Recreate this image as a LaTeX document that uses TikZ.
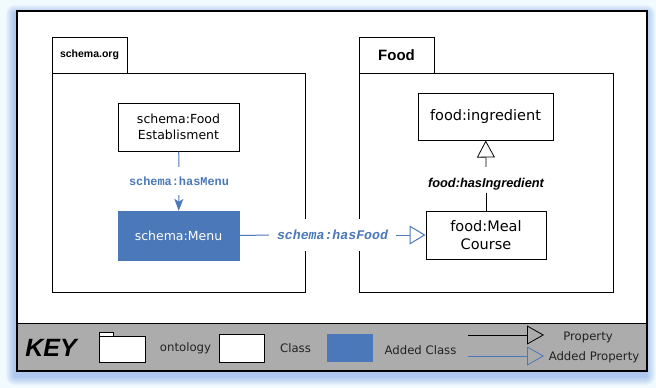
\documentclass[tikz,border=0pt]{standalone}
\usepackage{fontspec}
\setmainfont{DejaVu Sans}
\newfontfamily\helv{Liberation Sans}
\newfontfamily\mono{Liberation Mono}
\usetikzlibrary{arrows.meta}
\definecolor{addblue}{HTML}{4A78B8}
\definecolor{keygray}{HTML}{ACACAC}
\definecolor{backdrop}{HTML}{F1FAFE}
\definecolor{shadowcol}{HTML}{5A8AE0}
\definecolor{keytext}{HTML}{222222}
\tikzset{
  classbox/.style={draw=black, fill=white, line width=1pt, align=center, inner sep=0pt,
    font=\fontsize{12.5}{16}\selectfont},
  foodbox/.style={classbox, font=\fontsize{14.5}{18}\selectfont},
  addedbox/.style={fill=addblue, draw=addblue, text=white, inner sep=0pt,
    font=\fontsize{12.5}{16}\selectfont},
  pkgline/.style={draw=black, line width=1pt, fill=white},
  prop/.style={draw=black, line width=0.8pt},
  addprop/.style={draw=addblue, line width=1pt},
  opentip/.style={-{Triangle[open,length=16pt,width=19pt,fill=white]}},
  keylabel/.style={text=keytext, inner sep=0pt, font=\fontsize{11.7}{14}\selectfont},
}
\begin{document}
\begin{tikzpicture}[x=1pt,y=-1pt]
\useasboundingbox (0,0) rectangle (656,388);
\fill[backdrop] (0,0) rectangle (656,388);

% soft blue shadow under the sheet
\foreach \r in {1,...,9}
  \fill[shadowcol, opacity=0.06, rounded corners=\r pt]
    ({17-2-\r},{11+3-\r}) rectangle ({647-1+\r},{371+5+\r});

% outer sheet
\fill[white] (17,11) rectangle (647,371);
% key band
\fill[keygray] (17,323) rectangle (647,371);
\draw[line width=1pt] (17,323) -- (647,323);
\draw[line width=1.2pt] (17,11) rectangle (647,371);

% ontology packages
\draw[pkgline] (52,37) rectangle (127,73);
\draw[pkgline] (52,73) rectangle (305,292);
\node[font=\helv\bfseries\fontsize{10.5}{12}\selectfont] (pkgschema) at (89.5,55) {schema.org};
\draw[pkgline] (359,37) rectangle (434,73);
\draw[pkgline] (359,73) rectangle (613,292);
\node[font=\helv\bfseries\fontsize{15}{17}\selectfont] (pkgfood) at (396.5,55) {Food};

% classes
\node[classbox, minimum width=121pt, minimum height=48pt] (fe) at (178.5,127)
  {schema:Food\\Establisment};
\node[addedbox, minimum width=121pt, minimum height=49pt] (menu) at (178.5,235.5)
  {schema:Menu};
\node[foodbox, minimum width=135pt, minimum height=47pt] (ing) at (485.5,116.5)
  {food:ingredient};
\node[foodbox, minimum width=120pt, minimum height=48pt] (meal) at (486,235)
  {food:Meal\\Course};

% schema:hasMenu
\node[text=addblue, font=\mono\bfseries\fontsize{11.9}{14}\selectfont, inner sep=0pt,
  minimum height=28pt] (hm) at (179,181) {schema:hasMenu};
\draw[addprop] (fe) -- (hm);
\draw[addprop, -{Stealth[length=12pt,width=9pt,inset=3pt]}] (hm) -- (menu);

% schema:hasFood
\node[fill=white, text=addblue, font=\mono\bfseries\itshape\fontsize{13.2}{15}\selectfont,
  inner xsep=8pt, minimum height=32pt] (hf) at (332.5,235) {schema:hasFood};
\draw[addprop] (menu) -- (hf);
\draw[addprop, opentip] (hf) -- (meal);

% food:hasIngredient
\node[font=\helv\bfseries\itshape\fontsize{12.8}{14}\selectfont, inner sep=0pt,
  text height=9pt, text depth=3pt] (hi) at (486,184) {food:hasIngredient};
\draw[prop] (meal) -- ([yshift=-3pt]hi.south);
\draw[prop, -{Triangle[open,length=17pt,width=18pt,fill=white]}] ([yshift=11pt]hi.north) -- (ing);

% key
\node[font=\helv\bfseries\itshape\fontsize{25}{28}\selectfont, inner sep=0pt] (keyttl) at (51,348) {KEY};
\draw[line width=0.9pt, fill=white] (99,332) rectangle (113,336);
\draw[line width=0.9pt, fill=white] (99,336) rectangle (145,362);
\node[keylabel] (kont) at (185.5,348) {ontology};
\draw[line width=0.9pt, fill=white] (219,334) rectangle (264,362);
\node[keylabel] (kcls) at (295.5,348) {Class};
\fill[addblue] (327,334) rectangle (373,362);
\node[keylabel] (kadd) at (420.5,350) {Added Class};
\coordinate (kp0) at (468,335);
\coordinate (kp1) at (544,335);
\draw[prop, -{Triangle[open,length=17pt,width=19pt]}] (kp0) -- (kp1);
\node[keylabel] (kprop) at (588,337) {Property};
\coordinate (ka0) at (468,356);
\coordinate (ka1) at (544,356);
\draw[addprop, line width=0.8pt, -{Triangle[open,length=17pt,width=19pt]}] (ka0) -- (ka1);
\node[keylabel] (kaprop) at (594,357) {Added Property};
\end{tikzpicture}
\end{document}
